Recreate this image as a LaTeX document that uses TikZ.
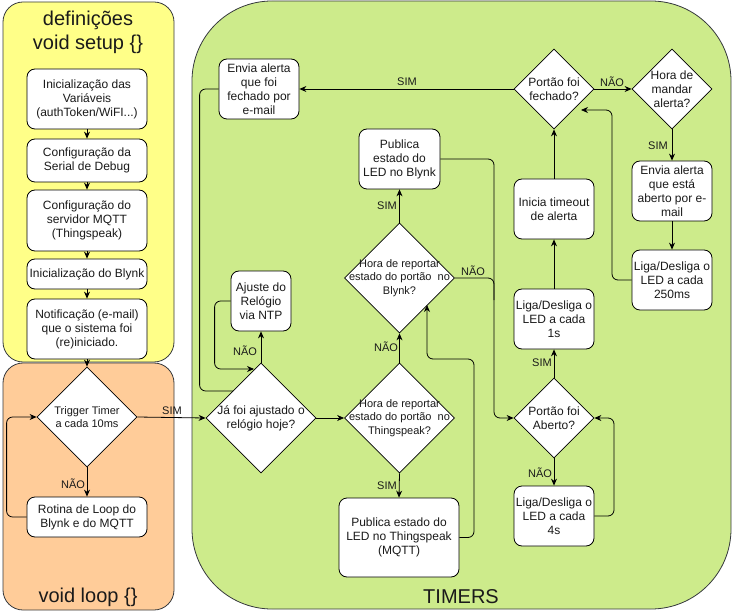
\documentclass[tikz,border=0pt]{standalone}
\usepackage{fontspec}
\setmainfont{Liberation Sans}
\usetikzlibrary{shapes.geometric,arrows.meta}
\definecolor{cyellow}{HTML}{FFFF88}
\definecolor{corange}{HTML}{FFCC99}
\definecolor{cgreen}{HTML}{CDEB8B}
\definecolor{cstroke}{HTML}{36393D}
\definecolor{ctext}{HTML}{1A1A1A}
\begin{document}
\begin{tikzpicture}[x=1pt,y=-1pt,
  container/.style={draw=cstroke, line width=0.8pt, inner sep=0pt, outer sep=0pt},
  title/.style={font=\fontsize{20}{24}\selectfont, text=ctext, align=center, inner sep=0pt},
  box/.style={draw=black, fill=white, rounded corners=8pt, align=center, text=ctext,
    font=\fontsize{12}{14}\selectfont, inner sep=0pt, line width=0.8pt},
  dia/.style={draw=black, fill=white, diamond, inner sep=0pt, line width=0.8pt},
  dtext/.style={align=center, text=ctext, font=\fontsize{11}{13.3}\selectfont, inner sep=0pt},
  dtextb/.style={align=center, text=ctext, font=\fontsize{12}{14}\selectfont, inner sep=0pt},
  elabel/.style={font=\fontsize{11}{13}\selectfont, text=ctext, inner sep=0pt},
  arr/.style={draw=black, line width=0.8pt, rounded corners=6pt, -{Stealth[length=7pt,width=6pt]}},
  ln/.style={draw=black, line width=0.8pt, rounded corners=6pt}
]
\useasboundingbox (0,0) rectangle (733,612);

% containers
\node[container, fill=cyellow, rounded corners=20pt, minimum width=171, minimum height=360] (setup) at (88.5,182) {};
\node[container, fill=corange, rounded corners=20pt, minimum width=171, minimum height=247] (loop) at (88.5,486.5) {};
\node[container, fill=cgreen, rounded corners=80pt, minimum width=539, minimum height=608] (timers) at (461.5,305) {};

\node[title] (tsetup) at (88,32) {definições\\void setup \{\}};
\node[title] (tloop) at (88,597) {void loop \{\}};
\node[title] (ttimers) at (461,597) {TIMERS};

% setup boxes
\node[box, minimum width=120, minimum height=60] (b1) at (87,99) {Inicialização das\\Variáveis\\(authToken/WiFI...)};
\node[box, minimum width=120, minimum height=43] (b2) at (87,160.5) {Configuração da\\Serial de Debug};
\node[box, minimum width=120, minimum height=61] (b3) at (87,220.5) {Configuração do\\servidor MQTT\\(Thingspeak)};
\node[box, minimum width=120, minimum height=30] (b4) at (87,274) {Inicialização do Blynk};
\node[box, minimum width=120, minimum height=60] (b5) at (87,329) {Notificação (e-mail)\\que o sistema foi\\(re)iniciado.};

% loop
\node[dia, minimum width=100, minimum height=100] (trig) at (87,417) {};
\node[dtext] (ttrig) at (trig) {Trigger Timer\\a cada 10ms};
\node[box, minimum width=120, minimum height=40] (rot) at (87,517) {Rotina de Loop do\\Blynk e do MQTT};

% timers
\node[dia, minimum width=110, minimum height=110] (ja) at (261,418) {};
\node[dtextb] (tja) at (ja) {Já foi ajustado o\\relógio hoje?};
\node[box, minimum width=60, minimum height=60] (aj) at (261,301) {Ajuste do\\Relógio\\via NTP};
\node[box, minimum width=80, minimum height=60] (envf) at (259,89) {Envia alerta\\que foi\\fechado por\\e-mail};

\node[dia, minimum width=110, minimum height=110] (ts) at (399.5,418) {};
\node[dtext] (tts) at (ts) {Hora de reportar\\estado do portão~ no\\Thingspeak?};
\node[dia, minimum width=110, minimum height=110] (bl) at (399.5,278) {};
\node[dtext] (tbl) at (bl) {Hora de reportar\\estado do portão~ no\\Blynk?};
\node[box, minimum width=81, minimum height=60] (pubb) at (399.5,159) {Publica\\estado do\\LED no Blynk};
\node[box, minimum width=120, minimum height=79] (pubts) at (399,537.5) {Publica estado do\\LED no Thingspeak\\(MQTT)};

\node[dia, minimum width=80, minimum height=80] (ab) at (554,418) {};
\node[dtextb] (tab) at (ab) {Portão foi\\Aberto?};
\node[box, minimum width=80, minimum height=60] (l4) at (554,516) {Liga/Desliga o\\LED a cada\\4s};
\node[box, minimum width=80, minimum height=60] (l1) at (554,319) {Liga/Desliga o\\LED a cada\\1s};
\node[box, minimum width=80, minimum height=60] (ini) at (554,209) {Inicia timeout\\de alerta};
\node[dia, minimum width=80, minimum height=80] (fe) at (554,89) {};
\node[dtextb] (tfe) at (fe) {Portão foi\\fechado?};
\node[dia, minimum width=80, minimum height=80] (hm) at (672,89) {};
\node[dtextb] (thm) at (hm) {Hora de\\mandar\\alerta?};
\node[box, minimum width=80, minimum height=60] (ea) at (672,191) {Envia alerta\\que está\\aberto por e-\\mail};
\node[box, minimum width=80, minimum height=60] (l250) at (672,280) {Liga/Desliga o\\LED a cada\\250ms};

% helper coordinates
\coordinate (caj) at (254,369);
\coordinate (cja) at (233,391);
\coordinate (cbl) at (427,305);
\coordinate (cfe) at (581,110);

% setup arrows
\draw[arr] (b1.south) -- (b2.north);
\draw[arr] (b2.south) -- (b3.north);
\draw[arr] (b3.south) -- (b4.north);
\draw[arr] (b4.south) -- (b5.north);
\draw[arr] (b5.south) -- (trig.north);

% loop arrows
\draw[arr] (trig.south) -- (rot.north);
\node[elabel] (lnao1) at (73,484) {NÃO};
\draw[arr] (rot.west) -- ++(-20,0) |- (trig.west);
\draw[arr] (trig.east) -- (ja.west);
\node[elabel] (lsim1) at (172,411) {SIM};

% timers arrows
\draw[arr] (ja.north) -- (aj.south);
\node[elabel] (lnao2) at (245,351) {NÃO};
\draw[arr] (aj.west) -- ++(-16,0) |- (caj);
\draw[ln] (envf.west) -- ++(-19,0) |- (cja);
\draw[arr] (ja.east) -- (ts.west);
\draw[arr] (ts.north) -- (bl.south);
\node[elabel] (lnao3) at (386,347) {NÃO};
\draw[arr] (bl.north) -- (pubb.south);
\node[elabel] (lsim2) at (387,206) {SIM};
\draw[arr] (ts.south) -- (pubts.north);
\node[elabel] (lsim3) at (387,486) {SIM};
\draw[arr] (pubts.east) -- (474,537.5) -- (474,359) -- (427,359) -- (cbl);
\draw[arr] (bl.east) -- (494,278) -- (494,418) -- (ab.west);
\node[elabel] (lnao4) at (473,271) {NÃO};
\draw[ln] (pubb.east) -- (494,159) -- (494,300);
\draw[arr] (ab.north) -- (l1.south);
\node[elabel] (lsim4) at (542,363) {SIM};
\draw[arr] (ab.south) -- (l4.north);
\node[elabel] (lnao5) at (540,473) {NÃO};
\draw[arr] (l4.east) -- (614,516) |- (ab.east);
\draw[arr] (l1.north) -- (ini.south);
\draw[arr] (ini.north) -- (fe.south);
\draw[arr] (fe.west) -- (envf.east);
\node[elabel] (lsim5) at (407,82) {SIM};
\draw[arr] (fe.east) -- (hm.west);
\node[elabel] (lnao6) at (612,82) {NÃO};
\draw[arr] (hm.south) -- (ea.north);
\node[elabel] (lsim6) at (658,146) {SIM};
\draw[arr] (ea.south) -- (l250.north);
\draw[arr] (l250.west) -- (612,280) |- (cfe);
\end{tikzpicture}
\end{document}
